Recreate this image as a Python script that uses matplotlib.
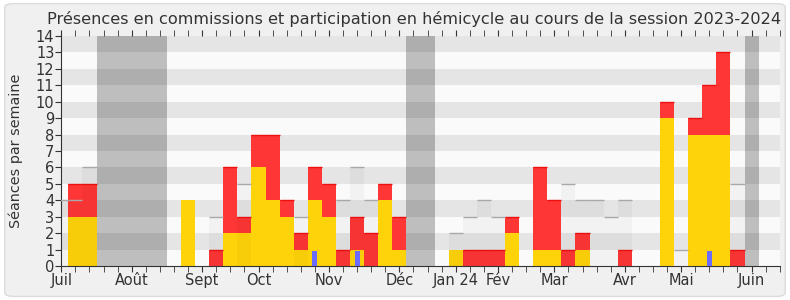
import matplotlib
matplotlib.use("Agg")
import matplotlib.pyplot as plt
from matplotlib.patches import FancyBboxPatch
import numpy as np

# one value per week, week 0 = first week of July 2023
weeks = np.arange(52)
commission = [0, 3, 3, 0, 0, 0, 0, 0, 0, 4, 0, 0, 2, 2, 6, 4, 3, 1, 4, 3,
              0, 1, 0, 4, 1, 0, 0, 0, 1, 0, 0, 0, 2, 0, 1, 1, 0, 1, 0, 0,
              0, 0, 0, 9, 0, 8, 8, 8, 0, 0, 0, 0]
hemicycle = [0, 2, 2, 0, 0, 0, 0, 0, 0, 0, 0, 1, 4, 1, 2, 4, 1, 1, 2, 2,
             1, 2, 2, 1, 2, 0, 0, 0, 0, 1, 1, 1, 1, 0, 5, 3, 1, 1, 0, 0,
             1, 0, 0, 1, 0, 1, 3, 5, 1, 0, 0, 0]
questions = [0] * 52
questions[18] = 0.9
questions[21] = 0.9
questions[46] = 0.9
mediane = [4, 4, 6, 0, 0, 0, 0, 0, 0, 0, 0, 3, 0, 5, 0, 0, 0, 3, 0, 0,
           4, 6, 4, 0, 0, 0, 0, 0, 2, 3, 4, 3, 0, 0, 0, 0, 5, 4, 4, 3,
           4, 0, 0, 0, 1, 0, 0, 0, 5, 0, 0, 0]
vacances = [3, 4, 5, 6, 7, 25, 26, 49]
mois = ["Juil", "Août", "Sept", "Oct", "Nov", "Déc", "Jan 24", "Fév",
        "Mar", "Avr", "Mai", "Juin"]
mois_pos = [0, 5, 10, 14, 19, 24, 28, 31, 35, 40, 44, 49]

fig = plt.figure(figsize=(7.9, 3.0), dpi=100, facecolor="white")
fig.patches.append(FancyBboxPatch((0.006, 0.012), 0.988, 0.976,
                                  boxstyle="round,pad=0,rounding_size=0.012",
                                  transform=fig.transFigure, facecolor="#f0f0f0",
                                  edgecolor="#dcdcdc", lw=1, zorder=-10))
ax = fig.add_axes([0.0776, 0.1133, 0.9094, 0.7667])
ax.set_facecolor("#fafafa")

for v in vacances:
    ax.axvspan(v - 0.5, v + 0.5, color="#bebebe", lw=0, zorder=0.5)
for y in range(1, 14, 2):
    ax.axhspan(y, y + 1, color="black", alpha=0.084, lw=0, zorder=1)

ax.bar(weeks, commission, width=1, color="#ffd30a", lw=0, zorder=2)
ax.bar(weeks, hemicycle, width=1, bottom=commission, color="#ff3636", lw=0, zorder=2)
tops = np.array(commission) + np.array(hemicycle)
has_red = np.array(hemicycle) > 0
ax.hlines(tops[has_red], weeks[has_red] - 0.5, weeks[has_red] + 0.5,
          color="#ee1111", lw=1, zorder=2.5)

med = np.array(mediane)
ax.bar(weeks, med, width=1, color="black", alpha=0.03, lw=0, zorder=3)
m = med > 0
ax.hlines(med[m], weeks[m] - 0.5, weeks[m] + 0.5, color="#a8a8a8", lw=1, zorder=3)

ax.bar(weeks, questions, width=0.35, color="#6b6bff", lw=0, zorder=4)

ax.set_xlim(0, 51)
ax.set_ylim(0, 14)
ax.set_yticks(range(15))
ax.set_xticks(weeks, minor=True)
ax.set_xticks(mois_pos)
ax.set_xticklabels(mois)
ax.tick_params(axis="x", which="both", length=4, color="#333333", labelsize=10.5,
               labelcolor="#333333", pad=1)
ax.tick_params(axis="x", which="both", top=True, length=1.5)
ax.tick_params(axis="x", which="both", bottom=True, length=4)
ax.tick_params(axis="y", length=4, color="#333333", labelsize=10.5,
               labelcolor="#333333", pad=1)
for s in ["top", "right"]:
    ax.spines[s].set_visible(False)
for s in ["left", "bottom"]:
    ax.spines[s].set_color("#333333")
ax.set_ylabel("Séances par semaine", fontsize=10.4, color="#333333")
ax.yaxis.set_label_coords(-0.054, 0.5)
fig.text(414 / 790, 1 - 19 / 300, "Présences en commissions et participation en hémicycle au cours de la session 2023-2024",
         ha="center", va="center", fontsize=11.6, color="#333333")

fig.savefig("out.png", dpi=100, facecolor=fig.get_facecolor())
